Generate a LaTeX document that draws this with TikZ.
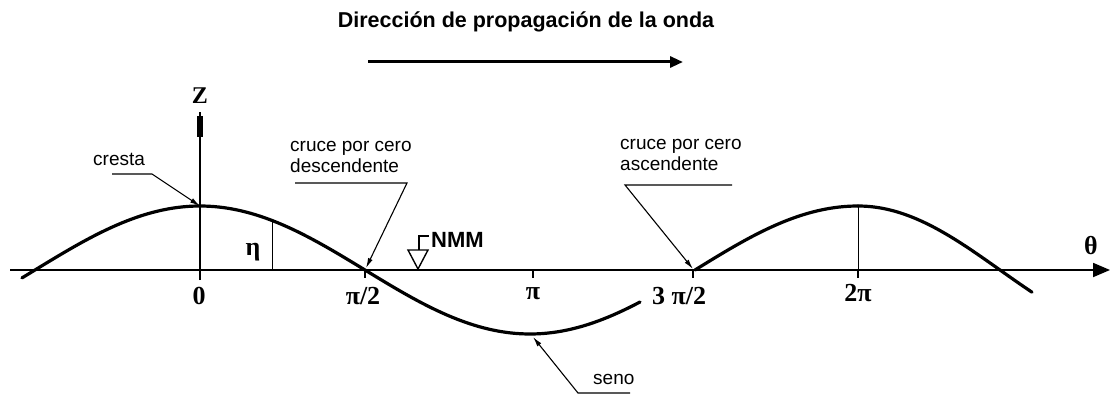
\documentclass[tikz,border=0pt]{standalone}
\usepackage{fontspec}
\setmainfont{Liberation Serif}
\setsansfont{Liberation Sans}
\usetikzlibrary{arrows.meta}
\usetikzlibrary{calc}

\begin{document}
\begin{tikzpicture}[x=1pt,y=-1pt,
    lbl/.style={font=\sffamily\fontsize{19}{21}\selectfont,inner sep=0pt,anchor=west,align=left},
    mth/.style={font=\bfseries\fontsize{26}{26}\selectfont,inner sep=0pt},
    wave/.style={line width=3.2pt,line cap=round},
    leader/.style={line width=1.1pt,-{Latex[length=10pt,width=5pt]}},
    tickmark/.style={line width=1.6pt}]
                    \useasboundingbox (0,0) rectangle (1111,396);
                    \node[font=\sffamily\bfseries\fontsize{21.5}{21.5}\selectfont] (title) at (526,22) {Dirección de propagación de la onda};
                    \coordinate (dirA) at (368,62);
                    \coordinate (dirB) at (683,62);
                    \draw[line width=3pt,-{Triangle[length=13pt,width=11pt]}] (dirA) -- (dirB);
                    % axes
                    \coordinate (xa) at (10,270);
                    \coordinate (xb) at (1110,270);
                    \coordinate (za) at (200,280);
                    \coordinate (zb) at (200,112);
                    \draw[line width=1.8pt,-{Triangle[length=17pt,width=14pt]}] (xa) -- (xb);
                    \draw[line width=1.8pt] (za) -- (zb);
                    \draw[line width=6pt] (200,116) -- (200,137);
                    \node[mth,font=\bfseries\fontsize{24}{24}\selectfont] (zlab) at (200,96) {Z};
                    \node[mth] (theta) at (1091,246) {θ};
                    \foreach \t in {365,533,693,858}
                        \draw[tickmark] (\t,270) -- (\t,278);
                    % wave
                    \draw[wave] plot[domain=22:640,samples=120] (\x,{270-64*cos((\x-200)/165*90)});
                    \draw[wave] plot[domain=695:858,samples=50] (\x,{270-64*cos((\x-858)/163*90)});
                    \draw[wave] plot[domain=858:1032,samples=50] (\x,{270-64*cos((\x-858)/142*90)});
                    \coordinate (crest) at (200,206);
                    \coordinate (crest2) at (858,206);
                    \coordinate (etatop) at (272,220.5);
                    \coordinate (etabase) at (272,270);
                    \coordinate (crestbase) at (858,270);
                    \coordinate (zdown) at (366,268);
                    \coordinate (zup) at (693,269);
                    \coordinate (trough) at (533,337);
                    \draw[line width=1pt] (etabase) -- (etatop);
                    \draw[line width=1pt] (crestbase) -- (crest2);
                    \node[mth] (eta) at (253,252) {η};
                    % tick labels
                    \node[mth] (l0) at (199,296) {0};
                    \node[mth] (l1) at (363,296) {π/2};
                    \node[mth] (l2) at (533,294) {π};
                    \node[mth] (l3) at (679,296) {3 π/2};
                    \node[mth] (l4) at (858,293) {2π};
                    % mean water level
                    \draw[line width=1.4pt] (408,250) -- (428,250) -- (418,269) -- cycle;
                    \draw[line width=1.4pt] (419,250) -- (419,236) -- (429,236);
                    \node[font=\sffamily\bfseries\fontsize{22}{22}\selectfont,inner sep=0pt,anchor=west] (nmm) at (431,240) {NMM};
                    % labels and leaders
                    \node[lbl] (cresta) at (93,159) {cresta};
                    \node[lbl] (desc) at (290,157) {cruce por cero\\descendente};
                    \node[lbl] (asc) at (620,155) {cruce por cero\\ascendente};
                    \node[lbl] (seno) at (593,379) {seno};
                    \coordinate (kc1) at (112,174);
                    \coordinate (kc2) at (152,174);
                    \coordinate (kd1) at (295,183);
                    \coordinate (kd2) at (407,183);
                    \coordinate (ka1) at (625,185);
                    \coordinate (ka2) at (732,185);
                    \coordinate (ks1) at (578,393);
                    \coordinate (ks2) at (630,393);
                    \draw[leader] (kc1) -- (kc2) -- (crest);
                    \draw[leader] (kd1) -- (kd2) -- (zdown);
                    \draw[leader] (ka2) -- (ka1) -- (zup);
                    \draw[leader] (ks2) -- (ks1) -- (trough);
                \end{tikzpicture}
\end{document}
